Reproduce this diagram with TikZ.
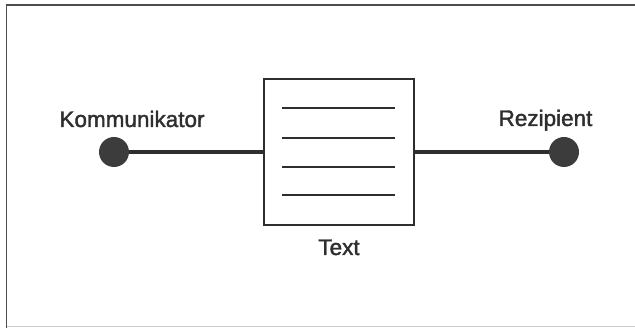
\documentclass[tikz,border=0pt]{standalone}
\usepackage{fontspec}
\setmainfont{Liberation Sans}
\newfontfamily\labelfont[FakeBold=1.6]{Liberation Sans}
\usepackage{tikz}
\usetikzlibrary{positioning}

\definecolor{ink}{HTML}{2E2E2E}
\definecolor{dotgray}{HTML}{3C3C3C}

\tikzset{
    frame/.style={draw=ink!85, line width=1.6pt},
    partner/.style={circle, fill=dotgray, minimum size=30pt, inner sep=0pt},
    message/.style={draw=ink, line width=1.8pt, fill=white, minimum width=150pt, minimum height=146pt, inner sep=0pt},
    channel/.style={draw=ink, line width=4.5pt},
    textline/.style={draw=ink, line width=1.6pt},
    label/.style={text=ink, anchor=base, inner sep=0pt, font=\labelfont\fontsize{22.5}{27}\selectfont}
}

\begin{document}
\begin{tikzpicture}[x=1pt, y=-1pt]
\useasboundingbox (0,0) rectangle (635,328);

% Outer frame, cut off on the right
\draw[frame] (640,5) -- (6.5,5) -- (6.5,328);
\draw[draw=ink!25, line width=1.2pt] (6.5,326.5) -- (640,326.5);

% Communicator, text and recipient
\node[message] (text) at (339,152) {};
\node[partner] (komm) at (114,152) {};
\node[partner] (rez) at (564,152) {};

% Connecting lines
\draw[channel] (komm.east) -- (text.west);
\draw[channel] (text.east) -- (rez.west);

% Lines of text in the box
\foreach \y in {108,138,167,195}
    \draw[textline] (282,\y) -- (395,\y);

% Labels
\node[label] (kommlabel) at (132,127) {Kommunikator};
\node[label] (rezlabel) at (545.5,126) {Rezipient};
\node[label] (textlabel) at (339,255) {Text};

\end{tikzpicture}
\end{document}
